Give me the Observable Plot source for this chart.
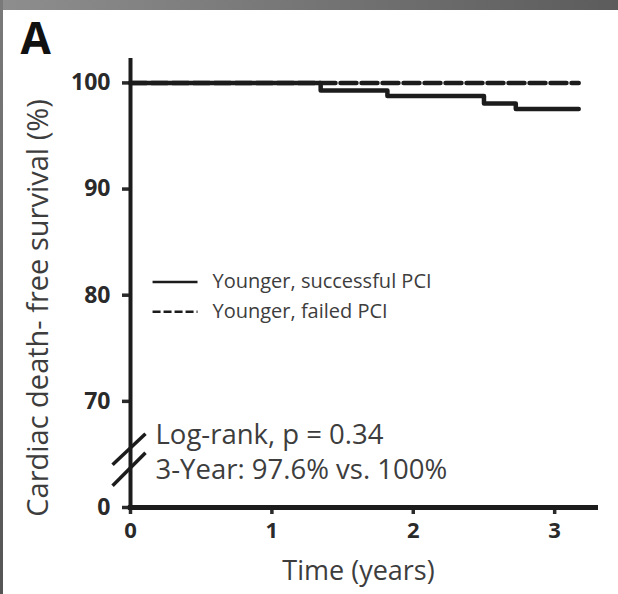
<!DOCTYPE html>
<html>
<head>
<meta charset="utf-8">
<script src="https://cdn.jsdelivr.net/npm/d3@7"></script>
<script src="https://cdn.jsdelivr.net/npm/@observablehq/plot@0.6"></script>
<style>
  body { margin: 0; background: #fff; }
  #wrap { position: relative; width: 618px; height: 594px; overflow: hidden; background: #fff; }
  #chart { position: absolute; left: 0; top: 0; }
  .frameTop { position: absolute; left: 0; top: 0; width: 618px; height: 10px; background: linear-gradient(to right, #8e8e8e, #5c5c5c); z-index: 2; }
  .frameLeft { position: absolute; left: 0; top: 0; width: 3px; height: 594px; background: linear-gradient(#7a7a7a, #555); z-index: 2; }
</style>
</head>
<body>
<div id="wrap">
  <div id="chart"></div>
  <div class="frameTop"></div>
  <div class="frameLeft"></div>
</div>
<script>
// Kaplan-Meier step data (years, % survival)
const timeSuccess = [0, 1.345, 1.817, 2.50, 2.725, 3.17];
const survSuccess = [100, 99.28, 98.77, 98.05, 97.55, 97.55];
const timeFailed = [0, 3.17];
const survFailed = [100, 100];

// Axis ticks (y axis is broken: the bottom tick is labelled 0)
const yTicks = [60, 70, 80, 90, 100];
const yTickLabels = ["0", "70", "80", "90", "100"];
const xTicks = [0, 1, 2, 3];
const xTickLabels = ["0", "1", "2", "3"];

// Texts
const panelLabel = "A";
const yLabel = "Cardiac death- free survival (%)";
const xLabel = "Time (years)";
const seriesNames = ["Younger, successful PCI", "Younger, failed PCI"];
const annotation = ["Log-rank, p = 0.34", "3-Year: 97.6% vs. 100%"];

// Legend placement (data units)
const legendKeyX = [0.156, 0.474];
const legendTextX = 0.58;
const legendY = [81.25, 78.45];

// Axis-break slashes (data units)
const breakX = [-0.127, 0.106];
const breakY1 = [64.03, 66.95];
const breakY2 = [62.05, 65.16];

const xMax = 3.31, yMin = 60, yMax = 102.3;
const ink = "#1c1c1c";
const textInk = "#3d3d3d";

const success = timeSuccess.map((t, i) => ({t, s: survSuccess[i]}));
const failed = timeFailed.map((t, i) => ({t, s: survFailed[i]}));
const legendSolid = [{name: seriesNames[0], y: legendY[0]}];
const legendDashed = [{name: seriesNames[1], y: legendY[1]}];
const slashes = [
  {x1: breakX[0], x2: breakX[1], y1: breakY1[0], y2: breakY1[1]},
  {x1: breakX[0], x2: breakX[1], y1: breakY2[0], y2: breakY2[1]}
];

const chart = Plot.plot({
  width: 618,
  height: 594,
  marginLeft: 130,
  marginRight: 20,
  marginTop: 58,
  marginBottom: 87,
  x: {domain: [0, xMax]},
  y: {domain: [yMin, yMax]},
  style: {background: "transparent", fontFamily: "'Open Sans', sans-serif", overflow: "visible"},
  marks: [
    Plot.axisY(yTicks, {tickSize: 8, strokeWidth: 3.5, tickPadding: 12, color: "#2a2a2a",
      tickFormat: (d, i) => yTickLabels[i], fontWeight: "bold", fontSize: 23, label: null}),
    Plot.axisX(xTicks, {tickSize: 7, strokeWidth: 3.5, tickPadding: 8, color: "#2a2a2a",
      tickFormat: (d, i) => xTickLabels[i], fontWeight: "bold", fontSize: 22, label: null}),
    Plot.ruleY([yMin], {x1: -0.015, x2: xMax, stroke: ink, strokeWidth: 5}),
    Plot.ruleX([0], {y1: yMin, y2: yMax, stroke: ink, strokeWidth: 4}),
    Plot.link(slashes, {x1: "x1", x2: "x2", y1: "y1", y2: "y2", stroke: ink, strokeWidth: 3.5}),
    Plot.line(failed, {x: "t", y: "s", stroke: ink, strokeWidth: 4.5, strokeDasharray: "16,5", curve: "step-after"}),
    Plot.line(success, {x: "t", y: "s", stroke: ink, strokeWidth: 4.5, curve: "step-after"}),
    // legend
    Plot.link(legendSolid, {x1: legendKeyX[0], x2: legendKeyX[1], y1: "y", y2: "y", stroke: ink, strokeWidth: 2.5}),
    Plot.link(legendDashed, {x1: legendKeyX[0], x2: legendKeyX[1], y1: "y", y2: "y", stroke: ink, strokeWidth: 2.5,
      strokeDasharray: "8,3"}),
    Plot.text([...legendSolid, ...legendDashed], {x: legendTextX, y: "y", text: "name", textAnchor: "start", fontSize: 20, fill: textInk}),
    // annotation
    Plot.text([annotation[0]], {frameAnchor: "bottom-left", dx: 25, dy: -64, textAnchor: "start", fontSize: 27.5, fill: textInk}),
    Plot.text([annotation[1]], {frameAnchor: "bottom-left", dx: 25, dy: -29, textAnchor: "start", fontSize: 27.5, fill: textInk}),
    // axis titles and panel label
    Plot.text([yLabel], {frameAnchor: "left", dx: -92, dy: 25, rotate: -90, textAnchor: "middle", fontSize: 29, fill: textInk}),
    Plot.text([xLabel], {frameAnchor: "bottom", dx: -6, dy: 72, textAnchor: "middle", fontSize: 27, fill: textInk}),
    Plot.text([panelLabel], {frameAnchor: "top-left", dx: -110, dy: -36, lineAnchor: "top", textAnchor: "start",
      fontSize: 44, fontWeight: "bold", fill: "#111"})
  ]
});
document.getElementById("chart").appendChild(chart);
</script>
</body>
</html>
